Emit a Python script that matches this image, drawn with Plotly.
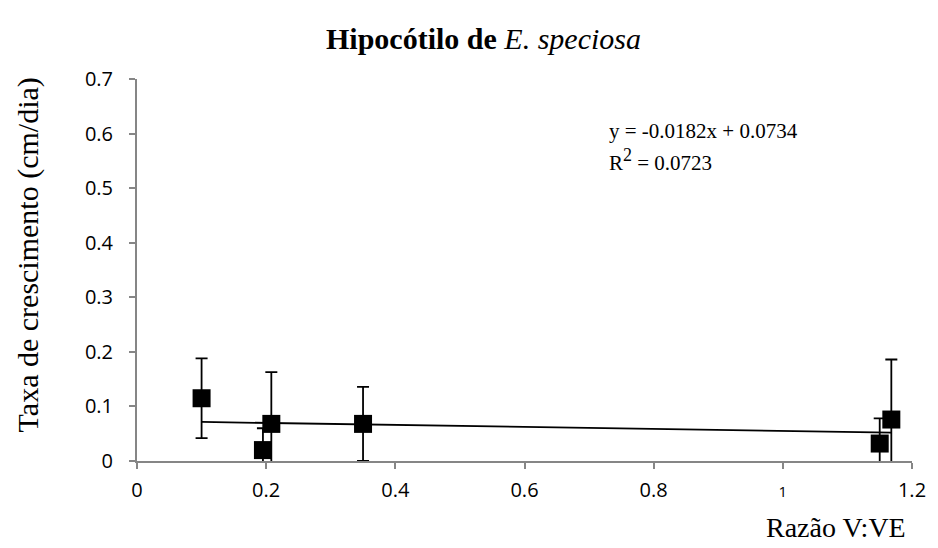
import plotly.graph_objects as go

razao = [0.10, 0.195, 0.208, 0.35, 1.15, 1.168]
taxa = [0.115, 0.020, 0.068, 0.068, 0.032, 0.076]
erro = [0.073, 0.040, 0.095, 0.068, 0.046, 0.110]
slope = -0.0182
intercept = 0.0734
x_ticks = [0, 0.2, 0.4, 0.6, 0.8, 1.0, 1.2]
x_ticklabels = ["0", "0.2", "0.4", "0.6", "0.8", "<span style='font-size:15px'>1</span>", "1.2"]
y_ticks = [0, 0.1, 0.2, 0.3, 0.4, 0.5, 0.6, 0.7]
y_ticklabels = ["0", "0.1", "0.2", "0.3", "0.4", "0.5", "0.6", "0.7"]

xmin, xmax = min(razao), max(razao)
trend_x = [xmin, xmax]
trend_y = [slope * v + intercept for v in trend_x]

fig = go.Figure()
fig.add_trace(go.Scatter(
    x=trend_x, y=trend_y, mode="lines",
    line=dict(color="black", width=1.8), showlegend=False, hoverinfo="skip"))
fig.add_trace(go.Scatter(
    x=razao, y=taxa, mode="markers",
    marker=dict(symbol="square", size=18, color="black"),
    error_y=dict(type="data", array=erro, visible=True, color="black",
                 thickness=1.8, width=6),
    showlegend=False))

serif = "Liberation Serif, Times New Roman, serif"
L, R, T, B = 137, 23, 79, 87
PW, PH = 938 - L - R, 548 - T - B


def px(xpix):
    return (xpix - L) / PW


def py(ypix):
    return (548 - B - ypix) / PH


tickfont = dict(family="Open Sans", size=20, color="black")
fig.update_layout(
    width=938, height=548,
    margin=dict(l=L, r=R, t=T, b=B),
    plot_bgcolor="white", paper_bgcolor="white",
    xaxis=dict(range=[0, 1.2], tickvals=x_ticks, ticktext=x_ticklabels,
               showgrid=False, zeroline=False, showline=True,
               linecolor="#868686", linewidth=2, ticks="outside",
               ticklen=6, tickwidth=2, tickcolor="#868686",
               ticklabelstandoff=4, tickfont=tickfont),
    yaxis=dict(range=[0, 0.7], tickvals=y_ticks, ticktext=y_ticklabels,
               showgrid=False, zeroline=False, showline=True,
               linecolor="#868686", linewidth=2, ticks="outside",
               ticklen=6, tickwidth=2, tickcolor="#868686",
               ticklabelstandoff=12, tickfont=tickfont),
    annotations=[
        dict(text="<b>Hipocótilo de</b> <i>E. speciosa</i>", xref="paper", yref="paper",
             x=px(485), y=py(38), showarrow=False,
             xanchor="center", yanchor="middle",
             font=dict(family=serif, size=30, color="black")),
        dict(text="Taxa de crescimento (cm/dia)", xref="paper", yref="paper",
             x=px(28), y=py(255), showarrow=False, textangle=-90,
             xanchor="center", yanchor="middle",
             font=dict(family=serif, size=30, color="black")),
        dict(text="Razão V:VE", xref="paper", yref="paper",
             x=px(839), y=py(527), showarrow=False,
             xanchor="center", yanchor="middle",
             font=dict(family=serif, size=28, color="black")),
        dict(text="y = -0.0182x + 0.0734", xref="paper", yref="paper",
             x=px(609), y=py(131), showarrow=False,
             xanchor="left", yanchor="middle",
             font=dict(family=serif, size=21, color="black")),
        dict(text="R<sup><span style='font-size:18px'>2</span></sup> = 0.0723", xref="paper", yref="paper",
             x=px(609), y=py(160), showarrow=False,
             xanchor="left", yanchor="middle",
             font=dict(family=serif, size=21, color="black")),
    ],
)

fig.write_html("out.html")
